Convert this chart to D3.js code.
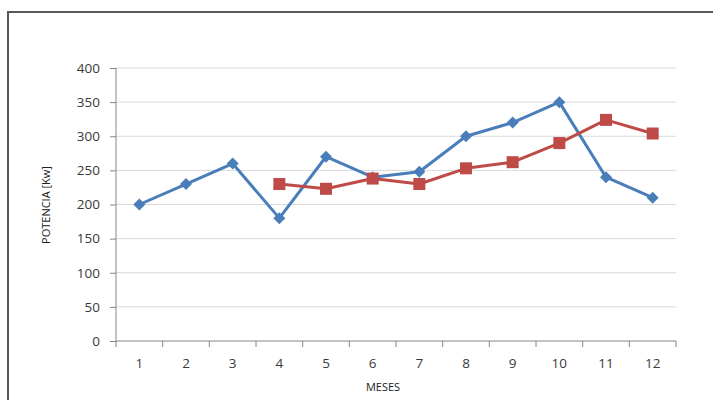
<!DOCTYPE html>
<html><head><meta charset="utf-8">
<script src="https://cdn.jsdelivr.net/npm/d3@7"></script>
<style>body{margin:0;background:#fff}svg{display:block}</style>
</head><body>
<svg id="c" width="713" height="400"></svg>
<script>
const months = ["1","2","3","4","5","6","7","8","9","10","11","12"];
const serieAzul = [200,230,260,180,270,240,248,300,320,350,240,210];
const serieRoja = [null,null,null,230,223,238,230,253,262,290,324,304];
const yTicks = [0,50,100,150,200,250,300,350,400];

const svg = d3.select("#c");
const L=116, R=676, T=68, B=341;
// frame
svg.append("path").attr("d","M8,400 L8,12 L713,12").attr("fill","none").attr("stroke","#585858").attr("stroke-width",2);

const x = d3.scaleBand().domain(months).range([L,R]);
const y = d3.scaleLinear().domain([0,400]).range([B,T]);

// gridlines
svg.append("g").selectAll("line").data(yTicks.filter(d=>d>0)).join("line")
  .attr("x1",L).attr("x2",R).attr("y1",d=>y(d)).attr("y2",d=>y(d))
  .attr("stroke","#d9d9d9").attr("stroke-width",1);

const font = "'Open Sans', 'Liberation Sans', Arial, sans-serif";
// y axis
const ya = svg.append("g").attr("transform",`translate(${L},0)`)
  .call(d3.axisLeft(y).tickValues(yTicks).tickSize(6).tickPadding(10));
ya.select(".domain").attr("stroke","#868686").attr("d",`M0,${T}V${B}`);
ya.selectAll(".tick line").attr("stroke","#868686");
ya.selectAll("text").attr("font-family",font).attr("font-size",13.5).attr("fill","#3a3a3a");

// x axis
const xa = svg.append("g").attr("transform",`translate(0,${B})`)
  .call(d3.axisBottom(x).tickSize(0).tickPadding(17));
xa.select(".domain").attr("stroke","#868686").attr("d",`M${L},0H${R}`);
xa.selectAll("text").attr("font-family",font).attr("font-size",13.5).attr("fill","#3a3a3a");
svg.append("g").selectAll("line").data(d3.range(months.length+1)).join("line")
  .attr("x1",i=>L+i*x.step()).attr("x2",i=>L+i*x.step())
  .attr("y1",B).attr("y2",B+6).attr("stroke","#868686");

// titles
svg.append("text").attr("x",383).attr("y",391).attr("text-anchor","middle")
  .attr("font-family",font).attr("font-size",11).attr("fill","#202020").text("MESES");
svg.append("text").attr("transform",`translate(50,205) rotate(-90)`).attr("text-anchor","middle")
  .attr("font-family",font).attr("font-size",11).attr("fill","#202020").text("POTENCIA [Kw]");

const cx = (i)=>x(months[i])+x.bandwidth()/2;
const line = d3.line().defined(d=>d.v!=null).x(d=>cx(d.i)).y(d=>y(d.v));
const blue="#4a7ebb", red="#be4b48";
const dA = serieAzul.map((v,i)=>({v,i})), dR = serieRoja.map((v,i)=>({v,i}));

svg.append("path").datum(dA).attr("d",line).attr("fill","none").attr("stroke",blue).attr("stroke-width",3).attr("stroke-linejoin","round");
svg.append("path").datum(dR).attr("d",line).attr("fill","none").attr("stroke",red).attr("stroke-width",3).attr("stroke-linejoin","round");

svg.append("g").selectAll("path").data(dA).join("path")
  .attr("d","M0,-6L6,0L0,6L-6,0Z").attr("fill",blue)
  .attr("transform",d=>`translate(${cx(d.i)},${y(d.v)})`);
svg.append("g").selectAll("rect").data(dR.filter(d=>d.v!=null)).join("rect")
  .attr("x",d=>cx(d.i)-6).attr("y",d=>y(d.v)-6).attr("width",12).attr("height",12).attr("fill",red);
</script>
</body></html>
